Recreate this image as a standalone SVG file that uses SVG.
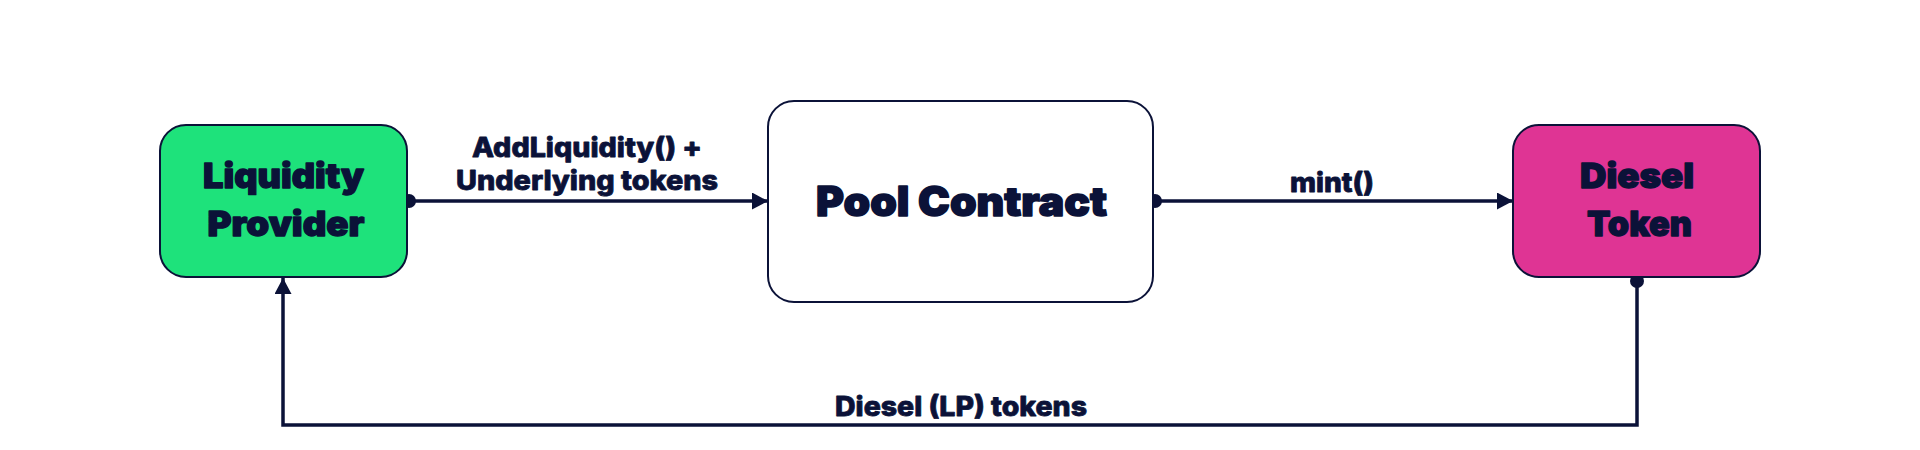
<svg xmlns="http://www.w3.org/2000/svg" width="1920" height="450" viewBox="0 0 1920 450">
<style>
.box{stroke:#0b1238;stroke-width:2}
.nt{font-family:Inter,"Liberation Sans",sans-serif;font-weight:900;font-size:34px;fill:#0b1238;stroke:#0b1238;stroke-width:1.3;stroke-linejoin:round;text-anchor:middle}
.big{font-size:41px;stroke-width:1.5}
.el{font-family:Inter,"Liberation Sans",sans-serif;font-weight:800;font-size:27px;fill:#0b1238;stroke:#0b1238;stroke-width:0.8;stroke-linejoin:round;text-anchor:middle}
.ln{stroke:#0b1238;stroke-width:3.5;fill:none}
.dot{fill:#0b1238}
</style>
<defs>
<marker id="arr" viewBox="0 0 16 16" refX="16" refY="8" markerWidth="16" markerHeight="17" markerUnits="userSpaceOnUse" orient="auto" preserveAspectRatio="none">
<path d="M0,0 L16,8 L0,16 Z" fill="#0b1238"/>
</marker>
</defs>
<rect width="1920" height="450" fill="#ffffff"/>
<g id="connectors">
<line class="ln" x1="409" y1="201" x2="768" y2="201" marker-end="url(#arr)"/>
<circle class="dot" cx="409" cy="201" r="7"/>
<text class="el" x="587" y="157" textLength="230" lengthAdjust="spacingAndGlyphs">AddLiquidity() +</text>
<text class="el" x="587" y="190" textLength="262" lengthAdjust="spacingAndGlyphs">Underlying tokens</text>
<line class="ln" x1="1155" y1="201" x2="1513" y2="201" marker-end="url(#arr)"/>
<circle class="dot" cx="1155" cy="201" r="7"/>
<text class="el" x="1332" y="192" textLength="84" lengthAdjust="spacingAndGlyphs">mint()</text>
<polyline class="ln" points="1637,279 1637,425 283,425 283,278" marker-end="url(#arr)"/>
<circle class="dot" cx="1637" cy="281" r="7"/>
<text class="el" x="961" y="416" textLength="252" lengthAdjust="spacingAndGlyphs">Diesel (LP) tokens</text>
</g>
<g id="liquidity-provider">
<rect class="box" x="160" y="125" width="247" height="152" rx="26" fill="#1EE27B"/>
<text class="nt" x="283.5" y="188" textLength="161" lengthAdjust="spacingAndGlyphs">Liquidity</text>
<text class="nt" x="286" y="236" textLength="157" lengthAdjust="spacingAndGlyphs">Provider</text>
</g>
<g id="pool-contract">
<rect class="box" x="768" y="101" width="385" height="201" rx="26" fill="#ffffff"/>
<text class="nt big" x="961.5" y="216" textLength="291" lengthAdjust="spacingAndGlyphs">Pool Contract</text>
</g>
<g id="diesel-token">
<rect class="box" x="1513" y="125" width="247" height="152" rx="26" fill="#DF3494"/>
<text class="nt" x="1637" y="188" textLength="114" lengthAdjust="spacingAndGlyphs">Diesel</text>
<text class="nt" x="1639.5" y="236" textLength="105" lengthAdjust="spacingAndGlyphs">Token</text>
</g>
</svg>
